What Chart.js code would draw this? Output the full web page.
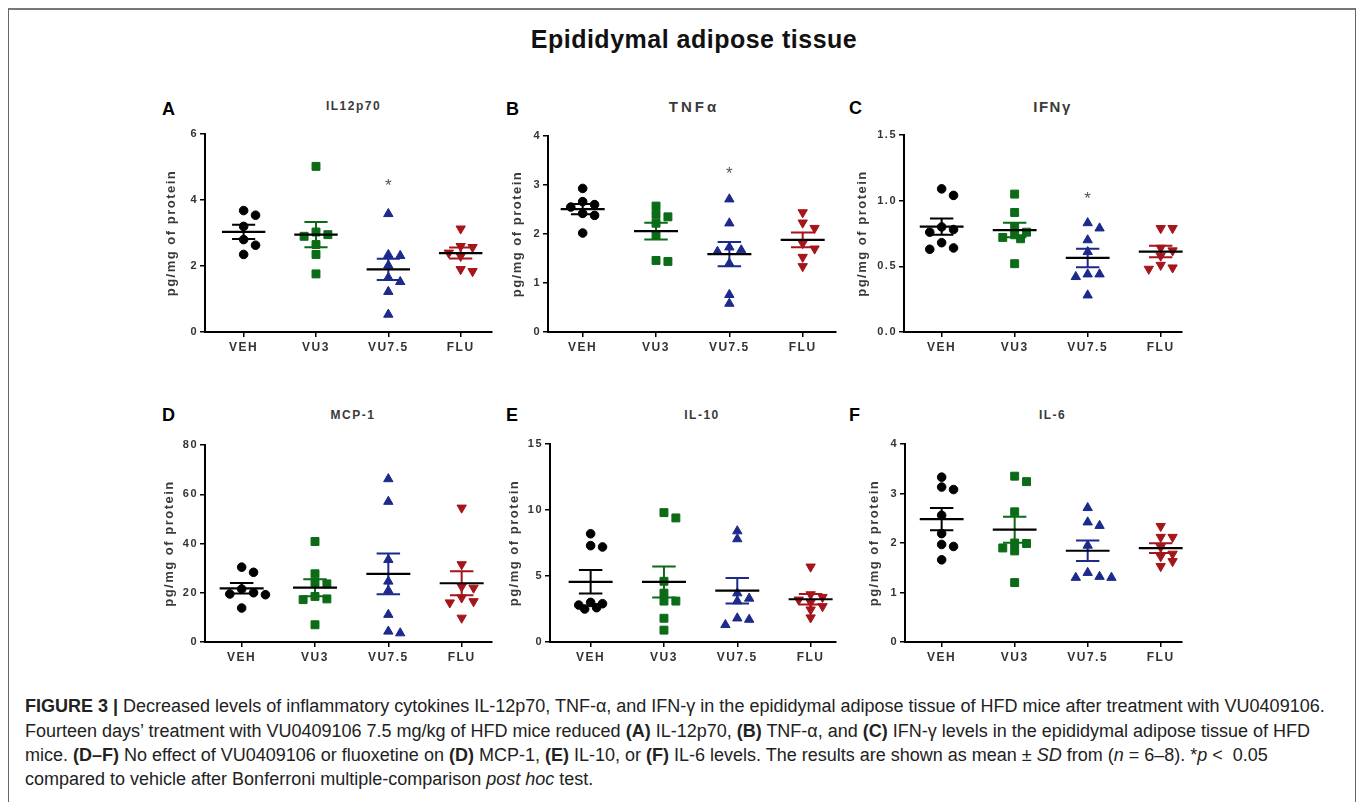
<!DOCTYPE html>
<html>
<head>
    <title>Epididymal adipose tissue</title>
    <script src="https://cdn.jsdelivr.net/npm/chart.js"></script>
    <style>
        body {
            margin: 0;
            width: 1358px;
            height: 802px;
            overflow: hidden;
            position: relative;
            background-color: #ffffff;
            font-family: 'Liberation Sans', Arial, sans-serif;
        }
        .frame {
            position: absolute;
            left: 8px;
            top: 8px;
            width: 1346px;
            height: 900px;
            border: 1px solid #666;
            border-top: 2px solid #777;
        }
        .fig-title {
            position: absolute;
            left: 394px;
            width: 600px;
            top: 24px;
            text-align: center;
            font-weight: bold;
            font-size: 25px;
            letter-spacing: 0.5px;
            line-height: 30px;
            color: #111;
        }
        .letter {
            position: absolute;
            font-weight: bold;
            font-size: 18px;
            line-height: 18px;
            color: #000;
        }
        .ptitle {
            position: absolute;
            width: 200px;
            text-align: center;
            font-weight: bold;
            line-height: 20px;
            color: #3a3a3a;
        }
        canvas {
            position: absolute;
        }
        .caption {
            position: absolute;
            left: 25px;
            font-size: 18px;
            line-height: 24px;
            color: #222;
            white-space: nowrap;
        }
    </style>
</head>
<body>
    <div class="frame"></div>
    <div class="fig-title">Epididymal adipose tissue</div>
    <div id="panels"></div>

    <div class="caption" style="top:694px;"><b>FIGURE 3 |</b> Decreased levels of inflammatory cytokines IL-12p70, TNF-α, and IFN-γ in the epididymal adipose tissue of HFD mice after treatment with VU0409106.</div>
    <div class="caption" style="top:719px;">Fourteen days’ treatment with VU0409106 7.5 mg/kg of HFD mice reduced <b>(A)</b> IL-12p70, <b>(B)</b> TNF-α, and <b>(C)</b> IFN-γ levels in the epididymal adipose tissue of HFD</div>
    <div class="caption" style="top:743px;">mice. <b>(D–F)</b> No effect of VU0409106 or fluoxetine on <b>(D)</b> MCP-1, <b>(E)</b> IL-10, or <b>(F)</b> IL-6 levels. The results are shown as mean ± <i>SD</i> from (<i>n</i> = 6–8). *<i>p</i> &lt;&nbsp; 0.05</div>
    <div class="caption" style="top:767px;">compared to vehicle after Bonferroni multiple-comparison <i>post hoc</i> test.</div>

    <script>
        // groups and panel info
        const groups = ['VEH', 'VU3', 'VU7.5', 'FLU'];
        const panelLetters = ['A', 'B', 'C', 'D', 'E', 'F'];
        const panelTitles = ['IL12p70', 'TNFα', 'IFNγ', 'MCP-1', 'IL-10', 'IL-6'];
        const yMaxes = [6, 4, 1.5, 80, 15, 4];
        const ySteps = [2, 1, 0.5, 20, 5, 1];
        const starValues = [4.55, 3.3, 1.04, null, null, null];   // * above VU7.5

        // values per group: VEH, VU3, VU7.5, FLU
        const il12p70 = [
            [3.68, 3.54, 3.2, 2.8, 2.63, 2.35],
            [5.02, 3.03, 2.95, 2.9, 2.65, 2.35, 1.76],
            [3.58, 2.34, 2.31, 2.02, 1.65, 1.52, 1.22, 0.53],
            [3.13, 2.6, 2.57, 2.4, 2.3, 1.9, 1.84]
        ];
        const tnfa = [
            [2.93, 2.66, 2.6, 2.55, 2.42, 2.38, 2.02],
            [2.57, 2.4, 2.35, 2.22, 1.98, 1.46, 1.44],
            [2.71, 2.22, 1.73, 1.67, 1.64, 1.4, 0.76, 0.58],
            [2.44, 2.23, 2.12, 1.81, 1.7, 1.53, 1.34]
        ];
        const ifng = [
            [1.09, 1.04, 0.80, 0.78, 0.76, 0.68, 0.64, 0.63],
            [1.05, 0.91, 0.80, 0.76, 0.74, 0.72, 0.71, 0.52],
            [0.83, 0.79, 0.70, 0.61, 0.44, 0.44, 0.42, 0.28],
            [0.79, 0.79, 0.64, 0.62, 0.58, 0.51, 0.49, 0.48]
        ];
        const mcp1 = [
            [30.4, 28.3, 21.5, 20, 19.5, 19.2, 13.8],
            [40.8, 27.7, 24.2, 23.6, 18.5, 17.5, 17.2, 7],
            [66.2, 57, 33.4, 24.6, 20.9, 11.1, 4.3, 3.6],
            [54.5, 31.5, 22.5, 22, 18, 16.5, 16, 9.8]
        ];
        const il10 = [
            [8.2, 7.3, 7.2, 3.0, 2.9, 2.8, 2.6, 2.5],
            [9.8, 9.4, 4.6, 3.7, 3.1, 3.1, 1.8, 0.9],
            [8.4, 7.8, 3.7, 3.3, 3.1, 1.8, 1.7, 1.3],
            [5.7, 3.6, 3.4, 3.2, 3.0, 2.7, 2.45, 1.85]
        ];
        const il6 = [
            [3.33, 3.13, 3.08, 2.56, 2.19, 1.97, 1.93, 1.66],
            [3.35, 3.24, 2.63, 2.0, 1.99, 1.9, 1.84, 1.2],
            [2.71, 2.42, 2.35, 1.95, 1.4, 1.32, 1.3, 1.3],
            [2.34, 2.12, 2.12, 1.92, 1.78, 1.73, 1.63, 1.53]
        ];
        const panelValues = [il12p70, tnfa, ifng, mcp1, il10, il6];

        const groupColors = ['#000000', '#0b6b16', '#1c2a8c', '#a5151b'];
        const pointStyles = ['circle', 'rect', 'triangle', 'triangle'];
        const pointSizes = [4.3, 5.6, 5.4, 5.4];

        // where each panel sits on the page (px)
        const layout = [
            { axisX: 205, catX: 244, step: 73, xEnd: 494, yTop: 134, yBot: 332, titleOff: 33, lx: 162, ly: 100, ty: 96 },
            { axisX: 548, catX: 583, step: 74, xEnd: 838, yTop: 136, yBot: 332, titleOff: 30, lx: 506, ly: 100, ty: 97 },
            { axisX: 904, catX: 942, step: 73.7, xEnd: 1184, yTop: 135, yBot: 332, titleOff: 41, lx: 849, ly: 99, ty: 97 },
            { axisX: 205, catX: 242, step: 74, xEnd: 494, yTop: 445, yBot: 642, titleOff: 35, lx: 162, ly: 406, ty: 405 },
            { axisX: 550, catX: 591, step: 74, xEnd: 838, yTop: 444, yBot: 642, titleOff: 35, lx: 506, ly: 406, ty: 405 },
            { axisX: 905, catX: 942, step: 73.7, xEnd: 1184, yTop: 444, yBot: 642, titleOff: 30, lx: 849, ly: 406, ty: 405 }
        ];

        // spread points sideways where they would overlap (like a scatter dot plot)
        function swarm(vals, gi, pxPerY, pxPerX) {
            const placed = [];
            const out = new Array(vals.length);
            const order = vals.map((v, i) => i).sort((a, b) => vals[b] - vals[a]);
            order.forEach(i => {
                const py = vals[i] * pxPerY;
                for (const k of [0, 2, -2, 1, -1, 3, -3, 4, -4]) {
                    const px = k * 6;
                    if (placed.every(p => Math.hypot(p.px - px, p.py - py) >= 7)) {
                        placed.push({ px, py });
                        out[i] = { x: gi + px / pxPerX, y: vals[i] };
                        break;
                    }
                }
            });
            return out;
        }

        function mean(a) { return a.reduce((s, v) => s + v, 0) / a.length; }
        function sem(a) {
            const m = mean(a);
            const sd = Math.sqrt(a.reduce((s, v) => s + (v - m) * (v - m), 0) / (a.length - 1));
            return sd / Math.sqrt(a.length);
        }

        // mean line, SEM whiskers and the star
        function summaryPlugin(values, star) {
            return {
                id: 'summary',
                beforeDraw(chart) { chart.ctx.letterSpacing = '1.5px'; },
                afterDatasetsDraw(chart) {
                    const { ctx, scales: { x, y } } = chart;
                    ctx.save();
                    ctx.letterSpacing = '0px';
                    values.forEach((vals, gi) => {
                        const m = mean(vals), s = sem(vals);
                        const cx = x.getPixelForValue(gi);
                        ctx.strokeStyle = groupColors[gi];
                        ctx.lineWidth = 2;
                        ctx.beginPath();
                        ctx.moveTo(cx, y.getPixelForValue(m - s));
                        ctx.lineTo(cx, y.getPixelForValue(m + s));
                        [m - s, m + s].forEach(v => {
                            ctx.moveTo(x.getPixelForValue(gi - 0.16), y.getPixelForValue(v));
                            ctx.lineTo(x.getPixelForValue(gi + 0.16), y.getPixelForValue(v));
                        });
                        ctx.stroke();
                        ctx.strokeStyle = '#000';
                        ctx.lineWidth = 2.2;
                        ctx.beginPath();
                        ctx.moveTo(x.getPixelForValue(gi - 0.3), y.getPixelForValue(m));
                        ctx.lineTo(x.getPixelForValue(gi + 0.3), y.getPixelForValue(m));
                        ctx.stroke();
                    });
                    if (star !== null) {
                        ctx.fillStyle = '#555';
                        ctx.font = '17px "Liberation Sans"';
                        ctx.textAlign = 'center';
                        ctx.textBaseline = 'middle';
                        ctx.fillText('*', x.getPixelForValue(2), y.getPixelForValue(star) + 4);
                    }
                    ctx.restore();
                }
            };
        }

        const holder = document.getElementById('panels');

        panelValues.forEach((values, p) => {
            const L = layout[p];
            const yW = L.titleOff + 12;
            const padTop = 10, xH = 28, padRight = 4;

            // letter and title
            const letter = document.createElement('div');
            letter.className = 'letter';
            letter.style.left = L.lx + 'px';
            letter.style.top = L.ly + 'px';
            letter.textContent = panelLetters[p];
            holder.appendChild(letter);

            const title = document.createElement('div');
            title.className = 'ptitle';
            const big = p === 1 || p === 2;
            title.style.fontSize = big ? '15px' : '12px';
            title.style.letterSpacing = p === 1 ? '3px' : '1.5px';
            title.style.left = (L.catX + 1.5 * L.step - 100) + 'px';
            title.style.top = L.ty + 'px';
            title.textContent = panelTitles[p];
            holder.appendChild(title);

            const canvas = document.createElement('canvas');
            const w = yW + (L.xEnd - L.axisX) + padRight;
            const h = (L.yBot - L.yTop) + padTop + xH;
            canvas.width = w;
            canvas.height = h;
            canvas.style.width = w + 'px';
            canvas.style.height = h + 'px';
            canvas.style.left = (L.axisX - yW) + 'px';
            canvas.style.top = (L.yTop - padTop) + 'px';
            holder.appendChild(canvas);

            const pxPerY = (L.yBot - L.yTop) / yMaxes[p];

            new Chart(canvas.getContext('2d'), {
                type: 'scatter',
                data: {
                    datasets: groups.map((g, gi) => ({
                        label: g,
                        data: swarm(values[gi], gi, pxPerY, L.step),
                        pointStyle: pointStyles[gi],
                        rotation: gi === 3 ? 180 : 0,
                        pointRadius: pointSizes[gi],
                        backgroundColor: groupColors[gi],
                        borderColor: groupColors[gi],
                        borderWidth: 1,
                        clip: false
                    }))
                },
                options: {
                    responsive: false,
                    animation: false,
                    devicePixelRatio: 1,
                    events: [],
                    layout: { padding: { top: padTop, right: padRight, left: 0, bottom: 0 } },
                    plugins: {
                        legend: { display: false },
                        tooltip: { enabled: false }
                    },
                    scales: {
                        x: {
                            type: 'linear',
                            min: (L.axisX - L.catX) / L.step,
                            max: (L.xEnd - L.catX) / L.step,
                            afterBuildTicks: axis => { axis.ticks = [0, 1, 2, 3].map(v => ({ value: v })); },
                            afterFit: axis => { axis.height = xH; },
                            ticks: {
                                callback: v => groups[v],
                                autoSkip: false,
                                maxRotation: 0,
                                padding: 3,
                                color: '#333',
                                font: { family: 'Liberation Sans', size: 12, weight: 'bold' }
                            },
                            grid: { display: true, drawOnChartArea: false, tickLength: 5, color: '#000', lineWidth: 1.5 },
                            border: { display: true, color: '#000', width: 2 }
                        },
                        y: {
                            min: 0,
                            max: yMaxes[p],
                            afterFit: axis => { axis.width = yW; },
                            ticks: {
                                stepSize: ySteps[p],
                                callback: v => p === 2 ? v.toFixed(1) : v,
                                padding: 2,
                                color: '#333',
                                font: { family: 'Liberation Sans', size: 11, weight: 'bold' }
                            },
                            title: {
                                display: true,
                                text: 'pg/mg of protein',
                                color: '#3a3a3a',
                                font: { family: 'Liberation Sans', size: 13, weight: 'bold' }
                            },
                            grid: { display: true, drawOnChartArea: false, tickLength: 5, color: '#000', lineWidth: 1.5 },
                            border: { display: true, color: '#000', width: 2 }
                        }
                    }
                },
                plugins: [summaryPlugin(values, starValues[p])]
            });
        });
    </script>
</body>
</html>
